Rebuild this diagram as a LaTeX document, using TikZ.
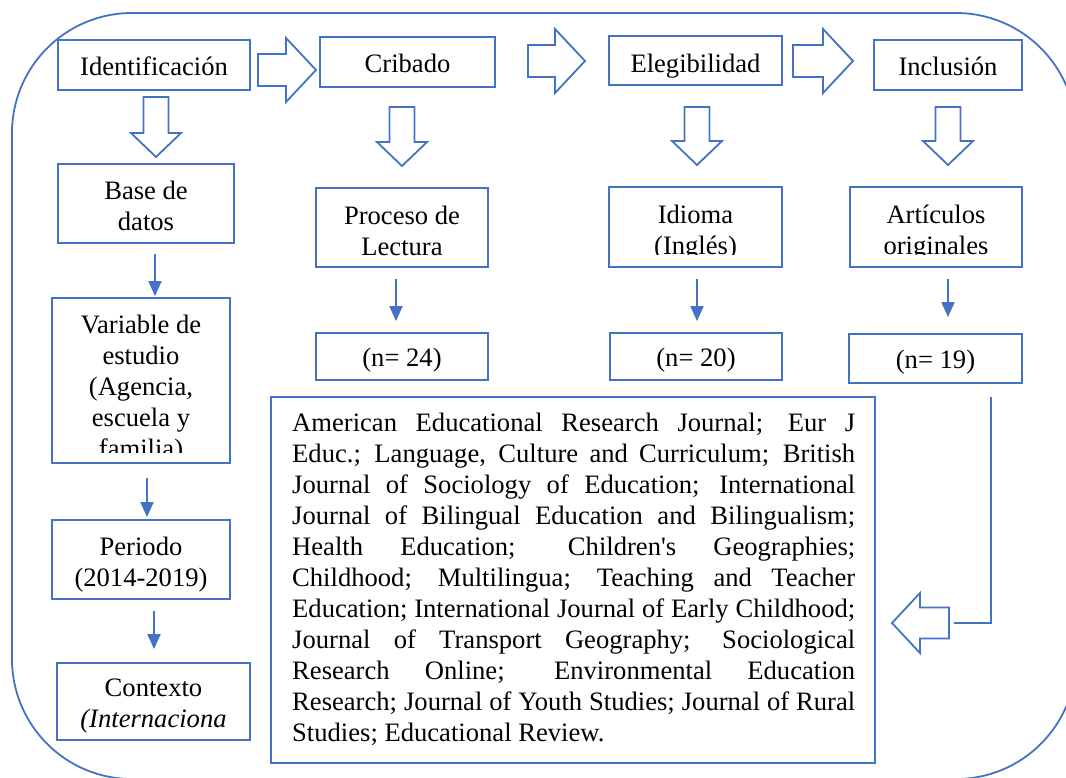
\documentclass[tikz,border=0pt]{standalone}
\usepackage{fontspec}
\setmainfont{Liberation Serif}[Ligatures=TeXOff]
\usetikzlibrary{arrows.meta,fit}
\definecolor{wblue}{HTML}{4472C4}
\tikzset{
 boxst/.style={draw=wblue, line width=1.8pt, inner sep=0pt, fill=white},
 txt/.style={inner sep=0pt, anchor=base, font=\fontsize{26.6}{31}\selectfont},
 blockarrow/.style={draw=wblue, line width=1.8pt, fill=white, line join=miter},
 tarrow/.style={draw=wblue, line width=1.8pt, -{Triangle[length=15pt,width=13pt]}},
 plainline/.style={draw=wblue, line width=1.8pt},
 frame/.style={draw=wblue, line width=1.8pt, rounded corners=120pt},
}
\newcommand\ml[1]{\begin{tabular}[t]{@{}c@{}}#1\end{tabular}}
\newcommand\rarr[3]{\draw[blockarrow] (#1,#3-16) -- (#2-30,#3-16) -- (#2-30,#3-32) -- (#2,#3) -- (#2-30,#3+32) -- (#2-30,#3+16) -- (#1,#3+16) -- cycle;}
\newcommand\darr[3]{\draw[blockarrow] (#1-12.5,#2) -- (#1+12.5,#2) -- (#1+12.5,#3-24) -- (#1+25,#3-24) -- (#1,#3) -- (#1-25,#3-24) -- (#1-12.5,#3-24) -- cycle;}
\newcommand\larr[3]{\draw[blockarrow] (#2,#3-15.5) -- (#1+28,#3-15.5) -- (#1+28,#3-30) -- (#1,#3) -- (#1+28,#3+30) -- (#1+28,#3+15.5) -- (#2,#3+15.5) -- cycle;}
\newcommand\jl[1]{\makebox[\linewidth][s]{#1}\\}

\begin{document}
\begin{tikzpicture}[x=1pt,y=-1pt]
\useasboundingbox (0,0) rectangle (1066,777);
\begin{scope}
\clip (0,0) rectangle (1066,777);
\draw[frame] (12,13) rectangle (1076,779);
\end{scope}

% top row
\node[boxst, fit={(58,40) (250,90)}] (ident) {};
\node[txt] (ident-t) at (ident.center |- 0,75) {Identificación};
\node[boxst, fit={(320,37) (495,87)}] (crib) {};
\node[txt] (crib-t) at (crib.center |- 0,72) {Cribado};
\node[boxst, fit={(609,36) (782,85)}] (eleg) {};
\node[txt] (eleg-t) at (eleg.center |- 0,72) {Elegibilidad};
\node[boxst, fit={(874,40) (1022,90)}] (incl) {};
\node[txt] (incl-t) at (incl.center |- 0,75) {Inclusión};

\rarr{258}{316}{70}
\rarr{528}{585}{61}
\rarr{793}{853}{61}
\darr{156}{97}{157}
\darr{402}{107}{166}
\darr{697}{107}{165}
\darr{948}{107}{165}

% second row
\node[boxst, fit={(58,164) (234,243)}] (base) {};
\node[txt] (base-t) at (base.center |- 0,199) {\ml{Base de\\datos}};
\node[boxst, fit={(316,188) (488,267)}] (proc) {};
\node[txt] (proc-t) at (proc.center |- 0,224) {\ml{Proceso de\\Lectura}};
\node[boxst, fit={(609,187) (782,267)}] (idio) {};
\begin{scope}
\clip (609,187) rectangle (782,254.5);
\node[txt] (idio-t) at (idio.center |- 0,223) {\ml{Idioma\\(Inglés)}};
\end{scope}
\node[boxst, fit={(850,187) (1022,267)}] (arti) {};
\begin{scope}
\clip (850,187) rectangle (1022,254.5);
\node[txt] (arti-t) at (arti.center |- 0,223) {\ml{Artículos\\originales}};
\end{scope}

% counts
\node[boxst, fit={(316,333) (488,380)}] (n24) {};
\node[txt] (n24-t) at (n24.center |- 0,366) {(n= 24)};
\node[boxst, fit={(610,333) (782,380)}] (n20) {};
\node[txt] (n20-t) at (n20.center |- 0,366) {(n= 20)};
\node[boxst, fit={(849,334) (1022,383)}] (n19) {};
\node[txt] (n19-t) at (n19.center |- 0,368) {(n= 19)};

% left column
\node[boxst, fit={(52,298) (230,463)}] (var) {};
\begin{scope}
\clip (52,298) rectangle (230,452);
\node[txt] (var-t) at (var.center |- 0,333) {\ml{Variable de\\estudio\\(Agencia,\\escuela y\\familia)}};
\end{scope}
\node[boxst, fit={(52,520) (230,599)}] (per) {};
\node[txt] (per-t) at (per.center |- 0,555) {\ml{Periodo\\(2014-2019)}};
\node[boxst, fit={(57,663) (250,740)}] (ctx) {};
\node[txt] (ctx-t) at (ctx.center |- 0,696) {\ml{Contexto\\\textit{(Internaciona}}};

% thin arrows
\coordinate (ax1) at (155,0);
\coordinate (ax2) at (147,0);
\coordinate (ax3) at (154,0);
\coordinate (ax4) at (396,0);
\coordinate (ax5) at (697,0);
\coordinate (ax6) at (948,0);
\draw[tarrow, shorten <=10pt, shorten >=1pt] (base.south -| ax1) -- (var.north -| ax1);
\draw[tarrow, shorten <=14pt, shorten >=2pt] (var.south -| ax2) -- (per.north -| ax2);
\draw[tarrow, shorten <=11pt, shorten >=13pt] (per.south -| ax3) -- (ctx.north -| ax3);
\draw[tarrow, shorten <=11pt, shorten >=11pt] (proc.south -| ax4) -- (n24.north -| ax4);
\draw[tarrow, shorten <=11pt, shorten >=11pt] (idio.south -| ax5) -- (n20.north -| ax5);
\draw[tarrow, shorten <=11pt, shorten >=16pt] (arti.south -| ax6) -- (n19.north -| ax6);

% journal box
\node[boxst, fit={(271,397) (875,763)}] (jbox) {};
\node[inner sep=0pt, anchor=base west, font=\fontsize{26.6}{31}\selectfont] (jtext) at (292,431) {\parbox[t]{563pt}{\noindent
\jl{American Educational Research Journal; Eur J}
\jl{Educ.; Language, Culture and Curriculum; British}
\jl{Journal of Sociology of Education; International}
\jl{Journal of Bilingual Education and Bilingualism;}
\jl{Health Education; Children's Geographies;}
\jl{Childhood; Multilingua; Teaching and Teacher}
\jl{Education; International Journal of Early Childhood;}
\jl{Journal of Transport Geography; Sociological}
\jl{Research Online; Environmental Education}
\jl{Research; Journal of Youth Studies; Journal of Rural}
Studies; Educational Review.}};

% return connector
\coordinate (r1) at (991,397);
\coordinate (r2) at (954,623);
\draw[plainline] (r1) |- (r2);
\larr{892}{949}{623}
\end{tikzpicture}
\end{document}
